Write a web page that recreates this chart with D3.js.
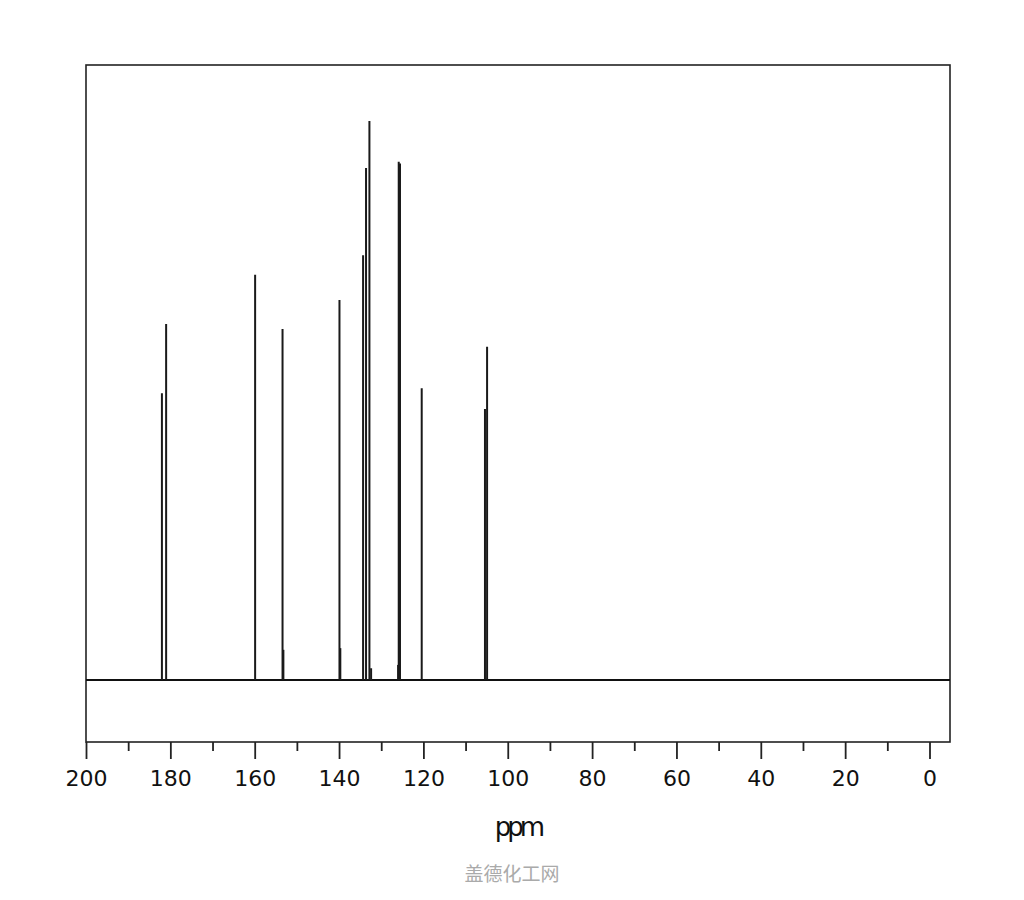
<!DOCTYPE html>
<html>
<head>
<meta charset="utf-8">
<script src="https://cdn.jsdelivr.net/npm/d3@7"></script>
<style>
  html, body { margin: 0; padding: 0; background: #fff; }
  svg { display: block; }
</style>
</head>
<body>
<svg id="chart" width="1024" height="900"></svg>
<script>
// ---- data ----
const peakPpm       = [182.0, 181.0, 159.9, 153.4, 153.2, 139.9, 139.7, 134.3, 133.6, 132.8, 132.4, 126.0, 125.85, 125.55, 120.4, 105.4, 104.9];
const peakIntensity = [51.3,  63.7,  72.5,  62.8,  5.4,   68.0,  5.7,   76.0,  91.6,  100.0, 2.1,   2.7,   92.7,   92.4,   52.2,  48.5,  59.6];
const majorTicks    = [200, 180, 160, 140, 120, 100, 80, 60, 40, 20, 0];
const minorTicks    = [190, 170, 150, 130, 110, 90, 70, 50, 30, 10];
const axisTitle     = "ppm";
const watermark     = "盖德化工网";

// ---- layout ----
const frameLeft = 86, frameRight = 950, frameTop = 65, frameBottom = 742;
const svg = d3.select("#chart");

const x = d3.scaleLinear().domain([200, 0]).range([86, 929.5]);
const y = d3.scaleLinear().domain([0, 100]).range([680, 121]);

// frame
svg.append("rect")
  .attr("x", frameLeft).attr("y", frameTop)
  .attr("width", frameRight - frameLeft).attr("height", frameBottom - frameTop)
  .attr("fill", "none").attr("stroke", "#222").attr("stroke-width", 1.6);

// baseline
svg.append("line")
  .attr("x1", frameLeft).attr("x2", frameRight)
  .attr("y1", y(0)).attr("y2", y(0))
  .attr("stroke", "#111").attr("stroke-width", 2);

// peaks
const peaks = peakPpm.map((p, i) => ({ p, v: peakIntensity[i] }));
svg.append("g").selectAll("line").data(peaks).join("line")
  .attr("x1", d => x(d.p)).attr("x2", d => x(d.p))
  .attr("y1", y(0)).attr("y2", d => y(d.v))
  .attr("stroke", "#1a1a1a").attr("stroke-width", 2);

// axis
const axisMajor = d3.axisBottom(x).tickValues(majorTicks).tickSize(17).tickPadding(11).tickFormat(d3.format("d"));
const gAxis = svg.append("g").attr("transform", `translate(0,${frameBottom})`).call(axisMajor);
gAxis.select(".domain").remove();
gAxis.selectAll(".tick line").attr("stroke", "#222").attr("stroke-width", 1.8);
gAxis.selectAll(".tick text")
  .attr("font-family", "'DejaVu Sans', Verdana, sans-serif")
  .attr("font-size", 22).attr("fill", "#111");

const axisMinor = d3.axisBottom(x).tickValues(minorTicks).tickSize(9).tickFormat("");
const gMinor = svg.append("g").attr("transform", `translate(0,${frameBottom})`).call(axisMinor);
gMinor.select(".domain").remove();
gMinor.selectAll(".tick line").attr("stroke", "#222").attr("stroke-width", 1.8);

// axis title
svg.append("text")
  .attr("x", 518).attr("y", 836)
  .attr("text-anchor", "middle")
  .attr("font-family", "'DejaVu Sans', Verdana, sans-serif")
  .attr("font-size", 26).attr("letter-spacing", -4)
  .attr("fill", "#111")
  .text(axisTitle);

// watermark
svg.append("text")
  .attr("x", 512).attr("y", 881)
  .attr("text-anchor", "middle")
  .attr("font-family", "'Noto Sans CJK SC', sans-serif")
  .attr("font-size", 19).attr("fill", "#aaa")
  .text(watermark);
</script>
</body>
</html>
